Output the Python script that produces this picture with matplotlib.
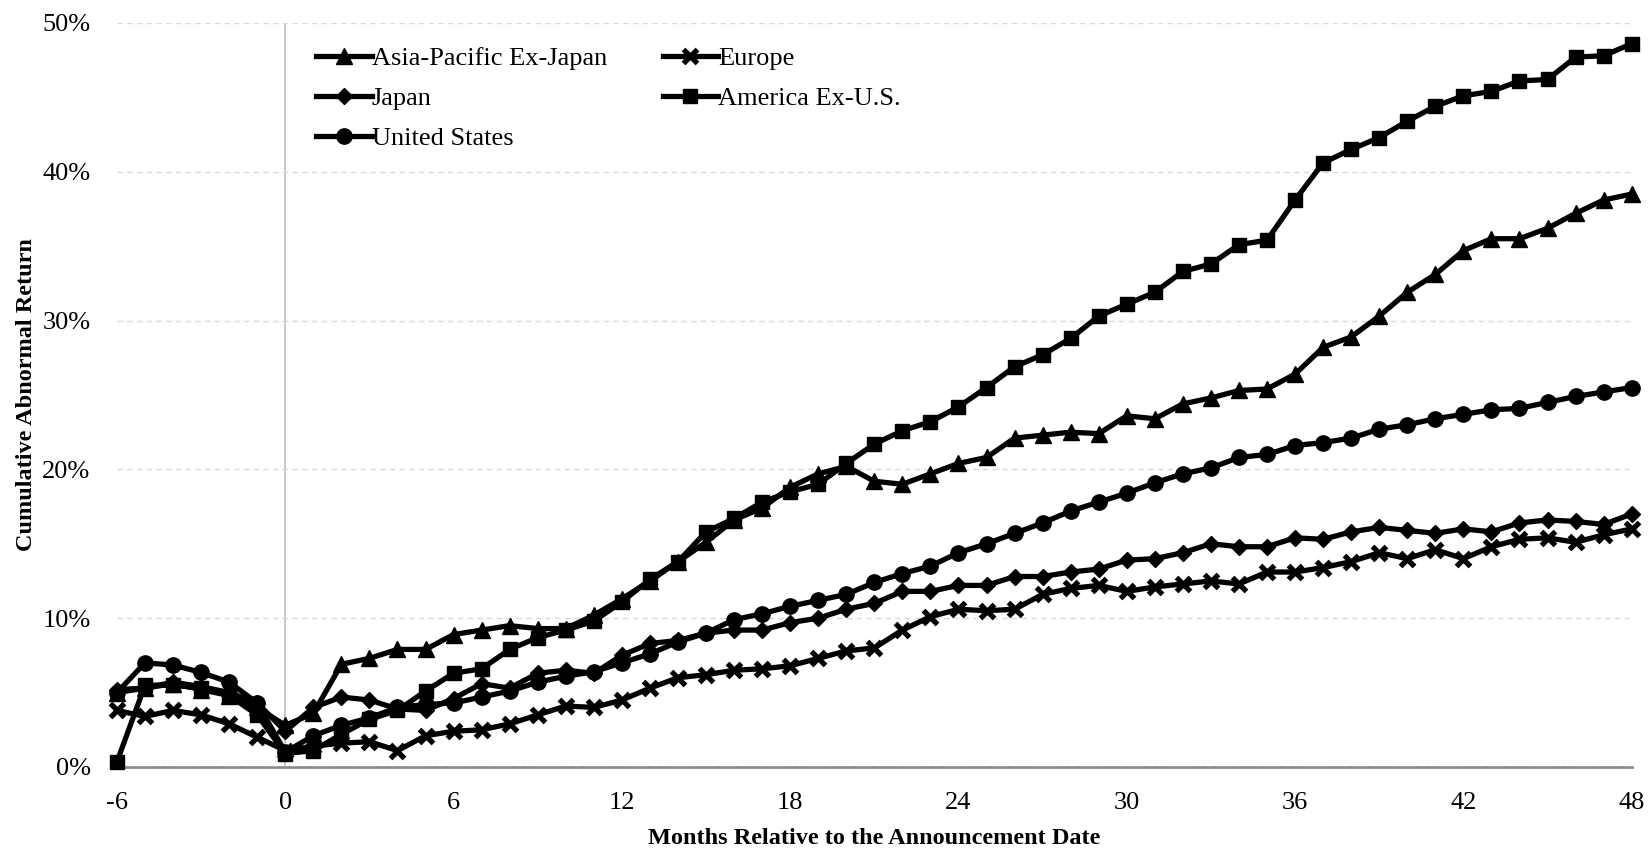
import numpy as np
import matplotlib.pyplot as plt
from matplotlib.ticker import FuncFormatter

plt.rcParams['font.family'] = ['Liberation Serif', 'DejaVu Serif']
plt.rcParams['axes.unicode_minus'] = False

months = list(range(-6, 49))

asia_pacific = [5.0, 5.3, 5.6, 5.2, 4.8, 4.0, 2.8, 3.6, 6.9, 7.3, 7.9, 7.9, 8.9, 9.2, 9.5, 9.3,
                9.3, 10.2, 11.3, 12.5, 13.8, 15.1, 16.6, 17.4, 18.8, 19.7, 20.2, 19.2, 19.0, 19.7,
                20.4, 20.8, 22.1, 22.3, 22.5, 22.4, 23.6, 23.4, 24.4, 24.8, 25.3, 25.4, 26.4, 28.2,
                28.9, 30.3, 31.9, 33.1, 34.7, 35.5, 35.5, 36.2, 37.2, 38.1, 38.5]
japan = [5.2, 5.3, 5.7, 5.4, 5.0, 4.3, 2.4, 4.0, 4.7, 4.5, 3.9, 3.8, 4.6, 5.6, 5.3, 6.3,
         6.5, 6.3, 7.5, 8.3, 8.5, 9.0, 9.2, 9.2, 9.7, 10.0, 10.6, 11.0, 11.8, 11.8,
         12.2, 12.2, 12.8, 12.8, 13.1, 13.3, 13.9, 14.0, 14.4, 15.0, 14.8, 14.8, 15.4, 15.3,
         15.8, 16.1, 15.9, 15.7, 16.0, 15.8, 16.4, 16.6, 16.5, 16.3, 17.0]
united_states = [5.0, 7.0, 6.85, 6.35, 5.7, 4.3, 1.0, 2.1, 2.8, 3.3, 4.0, 4.2, 4.3, 4.7, 5.1, 5.7,
                 6.1, 6.4, 7.0, 7.6, 8.4, 9.0, 9.9, 10.3, 10.8, 11.2, 11.6, 12.4, 13.0, 13.5,
                 14.4, 15.0, 15.7, 16.4, 17.2, 17.8, 18.4, 19.1, 19.7, 20.1, 20.8, 21.0, 21.6, 21.8,
                 22.1, 22.7, 23.0, 23.4, 23.7, 24.0, 24.1, 24.5, 24.9, 25.2, 25.5]
europe = [3.8, 3.4, 3.8, 3.5, 2.9, 2.0, 1.1, 1.4, 1.6, 1.7, 1.1, 2.1, 2.4, 2.5, 2.9, 3.5,
          4.1, 4.0, 4.5, 5.3, 6.0, 6.2, 6.5, 6.6, 6.8, 7.3, 7.8, 8.0, 9.2, 10.1,
          10.6, 10.5, 10.6, 11.6, 12.0, 12.2, 11.8, 12.1, 12.3, 12.5, 12.3, 13.1, 13.1, 13.4,
          13.8, 14.4, 14.0, 14.6, 14.0, 14.8, 15.3, 15.4, 15.1, 15.6, 16.0]
america_ex_us = [0.35, 5.5, 5.5, 5.3, 4.8, 3.5, 0.9, 1.1, 2.2, 3.2, 3.8, 5.1, 6.3, 6.6, 7.9, 8.7,
                 9.2, 9.8, 11.1, 12.6, 13.8, 15.8, 16.7, 17.8, 18.5, 19.0, 20.4, 21.7, 22.6, 23.2,
                 24.2, 25.5, 26.9, 27.7, 28.8, 30.3, 31.1, 31.9, 33.3, 33.8, 35.1, 35.4, 38.1, 40.6,
                 41.5, 42.3, 43.4, 44.4, 45.1, 45.4, 46.1, 46.2, 47.7, 47.8, 48.6]

series = [
    ("Asia-Pacific Ex-Japan", asia_pacific, "^", 11),
    ("Japan", japan, "D", 8.5),
    ("United States", united_states, "o", 11),
    ("Europe", europe, "x", 10.5),
    ("America Ex-U.S.", america_ex_us, "s", 9.5),
]

fig = plt.figure(figsize=(16.5, 8.49), dpi=100)
ax = fig.add_axes([0.0709, 0.0966, 0.918, 0.8764])

for name, vals, mk, ms in series:
    kw = dict(markeredgewidth=3.8) if mk == "x" else dict(markeredgewidth=1)
    ax.plot(months, np.array(vals) / 100, color="black", lw=3.8, marker=mk,
            markersize=ms, label=name, clip_on=False, zorder=3, **kw)

ax.set_xlim(-6, 48)
ax.set_ylim(0, 0.5)
ax.set_xticks(range(-6, 49, 6))
ax.set_yticks(np.arange(0, 0.51, 0.1))
ax.yaxis.set_major_formatter(FuncFormatter(lambda v, p: f"{v*100:.0f}%"))
ax.tick_params(length=0, labelsize=19)
ax.tick_params(axis="y", pad=19)
ax.tick_params(axis="x", pad=18)

for s in ["top", "right", "left"]:
    ax.spines[s].set_visible(False)
ax.spines["bottom"].set_color("#8c8c8c")
ax.spines["bottom"].set_linewidth(2)
ax.spines["bottom"].set_zorder(1)

ax.grid(axis="y", color="#d9d9d9", linestyle=(0, (4, 3)), lw=1)
ax.axvline(0, color="#bfbfbf", lw=1.2, zorder=1)

ax.set_xlabel("Months Relative to the Announcement Date", fontsize=17.5, fontweight="bold", labelpad=10)
ax.set_ylabel("Cumulative Abnormal Return", fontsize=17.5, fontweight="bold", labelpad=4)

ax.legend(ncol=2, loc="upper left", bbox_to_anchor=(0.116, 1.0), frameon=False,
          fontsize=19, handlelength=2.1, handletextpad=0.0, columnspacing=2.1,
          labelspacing=0.62)

fig.savefig("out.png", dpi=100)
